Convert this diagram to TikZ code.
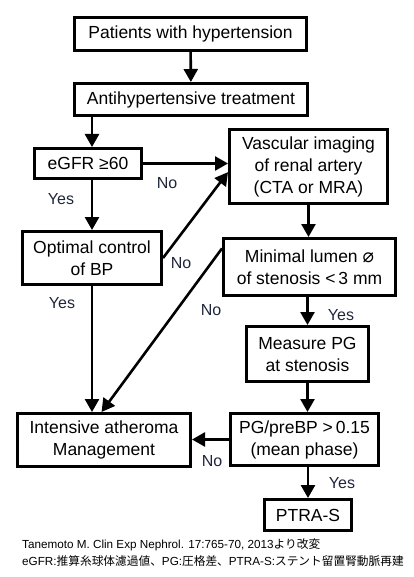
\documentclass[tikz,border=0pt]{standalone}
\usepackage{fontspec}
\setmainfont{Liberation Sans}
\newfontfamily\jpfont{Noto Sans CJK JP}
\newfontfamily\symfont{DejaVu Sans}
\usetikzlibrary{arrows.meta}
\definecolor{labnavy}{RGB}{31,38,60}

\begin{document}
\begin{tikzpicture}[
  x=1pt, y=-1pt,
  box/.style={draw, line width=3pt, inner sep=2pt, align=center,
              font=\fontsize{17.5}{22}\selectfont},
  arr/.style={-{Triangle[length=13pt,width=14pt]}, line width=2.6pt},
  lab/.style={text=labnavy, font=\fontsize{16}{19}\selectfont},
  note/.style={anchor=west, inner sep=0pt, font=\fontsize{11.7}{13}\selectfont}
]
\useasboundingbox (0,0) rectangle (414,577);
% Start
\node[box, minimum width=232pt, minimum height=33pt] (pat) at (190.5,34) {Patients with hypertension};
% Treatment
\node[box, minimum width=233pt, minimum height=32pt] (anti) at (191,99.5) {Antihypertensive treatment};
% Left column
\node[box, minimum width=107pt, minimum height=30pt] (egfr) at (88,163.5) {eGFR ≥60};
\node[box, minimum width=139pt, minimum height=53pt] (opt) at (92,258) {Optimal control\\of BP};
\node[box, minimum width=173pt, minimum height=53pt] (inten) at (104,440) {Intensive atheroma\\Management};
% Right column
\node[box, minimum width=158pt, minimum height=74pt] (vasc) at (308.5,166.5) {Vascular imaging\\of renal artery\\(CTA or MRA)};
\node[box, minimum width=172pt, minimum height=57pt] (minl) at (309.5,267) {Minimal lumen {\symfont\fontsize{19}{20}\selectfont ⌀}\\of stenosis <\,3 mm};
\node[box, minimum width=122pt, minimum height=55pt] (meas) at (307.5,354) {Measure PG\\at stenosis};
\node[box, minimum width=148pt, minimum height=52pt] (pgr) at (304.5,439.5) {PG/preBP >\,0.15\\(mean phase)};
\node[box, minimum width=87pt, minimum height=31pt] (ptra) at (308,515) {PTRA-S};

% Branch labels
\node[lab] (no1) at (167,183) {No};
\node[lab] (yes1) at (61,199) {Yes};
\node[lab] (no2) at (181,263) {No};
\node[lab] (yes2) at (62,303) {Yes};
\node[lab] (no3) at (211,310) {No};
\node[lab] (yes3) at (341,315) {Yes};
\node[lab] (no4) at (212,461) {No};
\node[lab] (yes4) at (342,483) {Yes};

\draw[arr] (pat) -- (anti);
\draw[arr] (anti.south -| opt.north) -- (egfr.north -| opt.north);
\draw[arr] (egfr.east) -- (egfr.east -| vasc.west);
\draw[arr] (egfr.south -| opt.north) -- (opt.north);
\draw[arr] (opt.east) -- (vasc.184);
\draw[arr] (vasc.south) -- (vasc.south |- minl.north);
\draw[arr] (minl.168) -- (inten.95);
\draw[arr] (opt.south) -- (opt.south |- inten.north);
\draw[arr] (minl.south -| meas.north) -- (meas.north);
\draw[arr] (meas.south) -- (meas.south |- pgr.north);
\draw[arr] (pgr.west) -- (pgr.west -| inten.east);
\draw[arr] (pgr.south -| ptra.north) -- (ptra.north);

% Source and abbreviations
\node[note] (cite) at (22,545) {Tanemoto M. Clin Exp Nephrol. 17:765-70, 2013{\jpfont より改変}};
\node[note] (abbr) at (22,561) {eGFR:{\jpfont 推算糸球体濾過値、}PG:{\jpfont 圧格差、}PTRA-S:{\jpfont ステント留置腎動脈再建}};
\end{tikzpicture}
\end{document}
